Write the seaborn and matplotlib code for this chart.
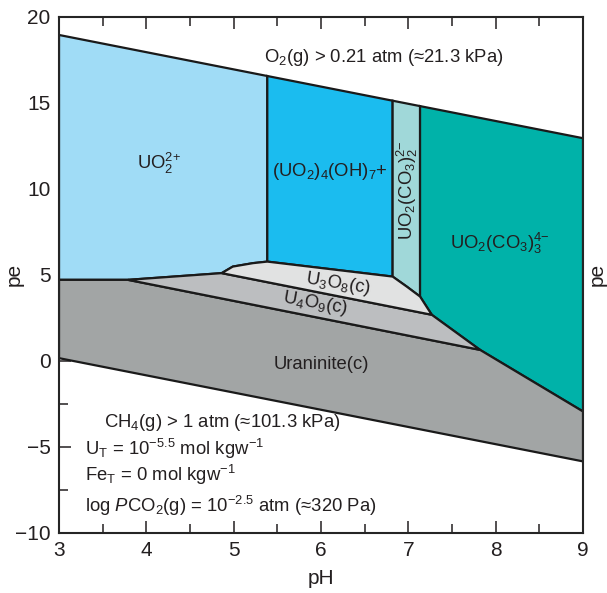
import matplotlib
matplotlib.use("Agg")
import matplotlib.pyplot as plt
import seaborn as sns
import numpy as np
from matplotlib.ticker import MultipleLocator

# region outlines (pH, pe)
uo2_ph = [3.0, 5.385, 5.385, 5.221, 4.99, 4.863, 3.79, 3.0]
uo2_pe = [18.94, 16.555, 5.77, 5.68, 5.48, 5.10, 4.71, 4.71]

hydrox_ph = [5.385, 6.82, 6.82, 5.385]
hydrox_pe = [16.555, 15.12, 4.90, 5.77]

dicarb_ph = [6.82, 7.134, 7.134, 6.981, 6.82]
dicarb_pe = [15.12, 14.806, 3.74, 4.32, 4.90]

tricarb_ph = [7.134, 9.0, 9.0, 7.821, 7.268, 7.134]
tricarb_pe = [14.806, 12.94, -2.94, 0.64, 2.68, 3.74]

u3o8_ph = [4.863, 4.99, 5.221, 5.385, 6.82, 6.981, 7.134, 7.268]
u3o8_pe = [5.10, 5.48, 5.68, 5.77, 4.90, 4.32, 3.74, 2.68]

u4o9_ph = [3.79, 4.863, 7.268, 7.821]
u4o9_pe = [4.71, 5.10, 2.68, 0.64]

uran_ph = [3.0, 3.79, 7.821, 9.0, 9.0, 3.0]
uran_pe = [4.71, 4.71, 0.64, -2.94, -5.84, 0.16]

colors = {
    "uo2": "#a0dcf6",
    "hydrox": "#1bbcef",
    "dicarb": "#a0d8d9",
    "tricarb": "#00b2a9",
    "u3o8": "#e1e2e2",
    "u4o9": "#bcbec0",
    "uran": "#a2a5a5",
}

sns.set_theme(style="ticks")
plt.rcParams['font.family'] = ['Liberation Sans', 'DejaVu Sans']
plt.rcParams['mathtext.fontset'] = 'custom'
plt.rcParams['mathtext.rm'] = 'Liberation Sans'
plt.rcParams['mathtext.it'] = 'Liberation Sans:italic'

fig = plt.figure(figsize=(6.07, 5.93), dpi=100)
ax = fig.add_axes([0.0972, 0.1012, 0.8633, 0.8706])

ec = "#1a1a1a"
lw = 1.6
ax.fill(uo2_ph, uo2_pe, facecolor=colors["uo2"], edgecolor=ec, lw=lw)
ax.fill(hydrox_ph, hydrox_pe, facecolor=colors["hydrox"], edgecolor=ec, lw=lw)
ax.fill(dicarb_ph, dicarb_pe, facecolor=colors["dicarb"], edgecolor=ec, lw=lw)
ax.fill(tricarb_ph, tricarb_pe, facecolor=colors["tricarb"], edgecolor=ec, lw=lw)
ax.fill(uran_ph, uran_pe, facecolor=colors["uran"], edgecolor=ec, lw=lw)
ax.fill(u4o9_ph, u4o9_pe, facecolor=colors["u4o9"], edgecolor=ec, lw=lw)
ax.fill(u3o8_ph, u3o8_pe, facecolor=colors["u3o8"], edgecolor=ec, lw=lw)

ax.set_xlim(3, 9)
ax.set_ylim(-10, 20)

fs = 13.3
tc = "#231f20"
ax.text(6.72, 17.65, "O$_2$(g) > 0.21 atm (\u224821.3 kPa)", fontsize=fs,
        ha="center", va="center", color=tc)
ax.text(4.15, 11.5, "UO$_2^{2{+}}$", fontsize=fs, ha="center", va="center", color=tc)
ax.text(6.1, 11.0, "(UO$_2$)$_4$(OH)$_7$+", fontsize=fs, ha="center", va="center", color=tc)
ax.text(6.985, 9.9, "UO$_2$(CO$_3$)$_2^{2{-}}$", fontsize=fs, ha="center", va="center",
        rotation=90, color=tc)
ax.text(8.05, 6.85, "UO$_2$(CO$_3$)$_3^{4{-}}$", fontsize=fs, ha="center", va="center", color=tc)
ax.text(6.2, 4.5, "U$_3$O$_8$(c)", fontsize=fs, ha="center", va="center",
        rotation=-9, rotation_mode="anchor", color=tc)
ax.text(5.93, 3.35, "U$_4$O$_9$(c)", fontsize=fs, ha="center", va="center",
        rotation=-10, rotation_mode="anchor", color=tc)
ax.text(6.0, -0.2, "Uraninite(c)", fontsize=fs, ha="center", va="center", color=tc)
ax.text(4.87, -3.6, "CH$_4$(g) > 1 atm (\u2248101.3 kPa)", fontsize=fs, ha="center",
        va="center", color=tc)
ax.text(3.3, -5.1, "U$_\\mathrm{T}$ = 10$^{-5.5}$ mol kgw$^{-1}$", fontsize=fs,
        ha="left", va="center", color=tc)
ax.text(3.3, -6.65, "Fe$_\\mathrm{T}$ = 0 mol kgw$^{-1}$", fontsize=fs,
        ha="left", va="center", color=tc)
ax.text(3.3, -8.4, "log $P$CO$_2$(g) = 10$^{-2.5}$ atm (\u2248320 Pa)", fontsize=fs,
        ha="left", va="center", color=tc)

ax.xaxis.set_major_locator(MultipleLocator(1))
ax.xaxis.set_minor_locator(MultipleLocator(0.5))
ax.yaxis.set_major_locator(MultipleLocator(5))
ax.yaxis.set_minor_locator(MultipleLocator(2.5))
ax.tick_params(which="both", direction="in", top=True, right=True, width=1.1,
               color=tc, labelsize=15, labelcolor=tc)
ax.tick_params(which="major", length=8.5, pad=6)
ax.tick_params(which="minor", length=6.5)
ax.set_yticklabels([f"{int(v)}".replace("-", "\u2212") for v in ax.get_yticks()])
for s in ax.spines.values():
    s.set_linewidth(1.5)
    s.set_color(tc)

ax.set_xlabel("pH", fontsize=15, color=tc, labelpad=6)
ax.set_ylabel("pe", fontsize=15, color=tc)
ax.yaxis.set_label_coords(-0.068, 0.5)
ax2 = ax.twinx()
ax2.set_ylim(-10, 20)
ax2.set_yticks([])
ax2.set_ylabel("pe", fontsize=15, color=tc)
ax2.yaxis.set_label_coords(1.009, 0.5)

fig.savefig("out.png", dpi=100)
